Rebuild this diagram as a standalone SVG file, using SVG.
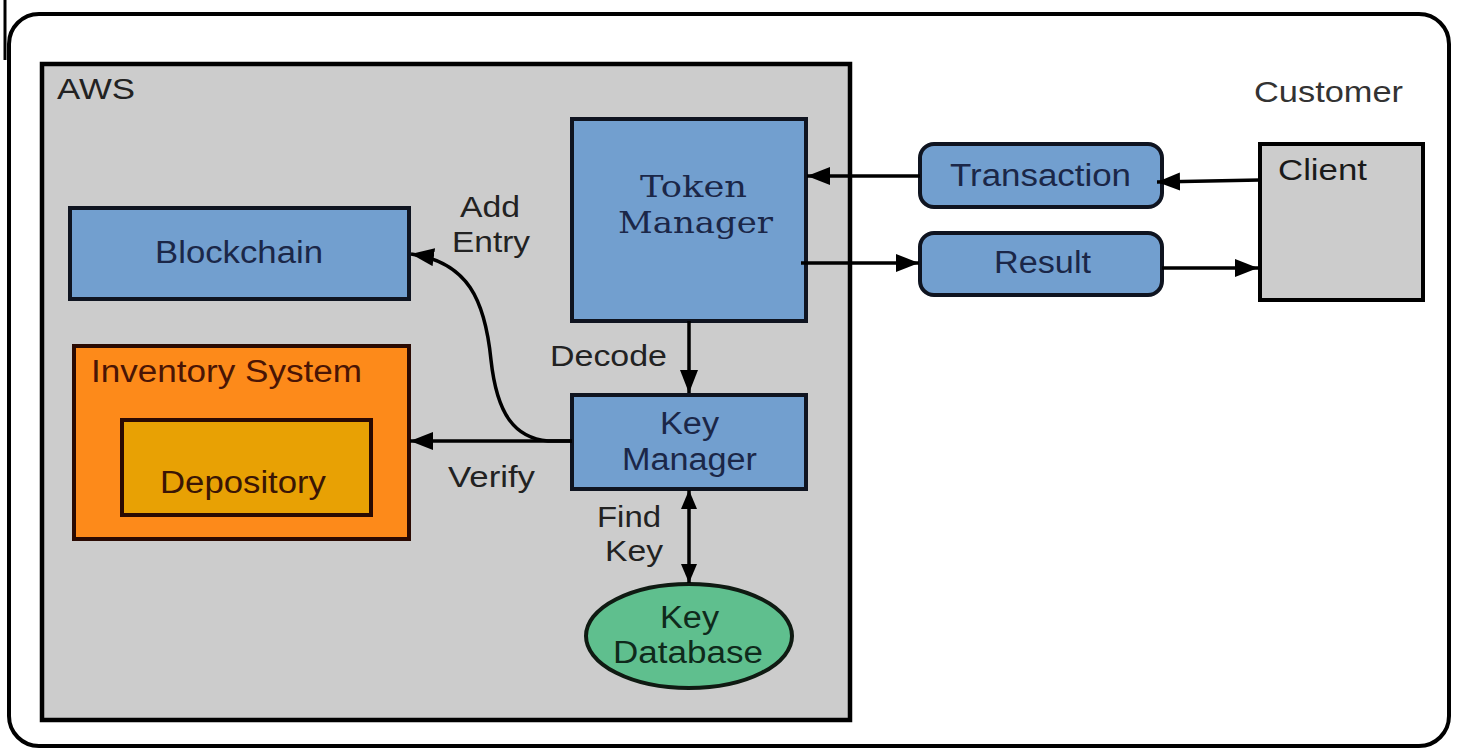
<svg xmlns="http://www.w3.org/2000/svg" width="1457" height="751" viewBox="0 0 1457 751">
<defs>
<style>
.t{font-family:"Liberation Sans",Arial,sans-serif;font-size:29px;fill:#222222}
.nt{font-family:"Liberation Sans",Arial,sans-serif;font-size:31px;fill:#1b2748}
.sr{font-family:"DejaVu Serif","Liberation Serif",serif;font-size:30px;fill:#1b2748}
.blue{fill:#729fcf;stroke:#0f1420;stroke-width:4}
.conn{fill:none;stroke:#000000;stroke-width:3.5}
</style>
<marker id="ah" markerUnits="userSpaceOnUse" markerWidth="24" markerHeight="20" refX="23" refY="9" orient="auto">
<path d="M0,0 L23,9 L0,18 z" fill="#000000"/>
</marker>
<marker id="ahs" markerUnits="userSpaceOnUse" markerWidth="20" markerHeight="18" refX="19" refY="8" orient="auto-start-reverse">
<path d="M0,0 L19,8 L0,16 z" fill="#000000"/>
</marker>
</defs>
<rect x="0" y="0" width="1457" height="751" fill="#ffffff"/>
<g id="frame">
<rect x="9" y="14" width="1440" height="732" rx="30" ry="30" fill="#ffffff" stroke="#000000" stroke-width="4"/>
<line x1="5" y1="0" x2="5" y2="60" stroke="#000000" stroke-width="3"/>
<text class="t" x="1254" y="102" textLength="149" lengthAdjust="spacingAndGlyphs" style="fill:#333333">Customer</text>
</g>
<g id="aws">
<rect x="42" y="64" width="808" height="656" fill="#cccccc" stroke="#000000" stroke-width="4.5"/>
<text class="t" x="57" y="99" textLength="78" lengthAdjust="spacingAndGlyphs">AWS</text>
</g>
<g id="token-manager">
<rect class="blue" x="572" y="119" width="234" height="202"/>
<text class="sr" x="640" y="197" textLength="107" lengthAdjust="spacingAndGlyphs" font-weight="bold" style="font-weight:normal">Token</text>
<text class="sr" x="618" y="233" textLength="155" lengthAdjust="spacingAndGlyphs">Manager</text>
</g>
<g id="blockchain">
<rect class="blue" x="70" y="208" width="339" height="91"/>
<text class="nt" x="155" y="263" textLength="168" lengthAdjust="spacingAndGlyphs">Blockchain</text>
</g>
<g id="inventory-system">
<rect x="74" y="346" width="335" height="193" fill="#fd8a1a" stroke="#2a0a02" stroke-width="4"/>
<text class="nt" x="91" y="382" textLength="271" lengthAdjust="spacingAndGlyphs" style="fill:#4a1505">Inventory System</text>
</g>
<g id="depository">
<rect x="122" y="420" width="249" height="95" fill="#e8a104" stroke="#2a0a02" stroke-width="4"/>
<text class="nt" x="160" y="493" textLength="166" lengthAdjust="spacingAndGlyphs" style="fill:#3a1505">Depository</text>
</g>
<g id="key-manager">
<rect class="blue" x="572" y="395" width="234" height="94"/>
<text class="nt" x="660" y="434" textLength="59" lengthAdjust="spacingAndGlyphs">Key</text>
<text class="nt" x="622" y="470" textLength="135" lengthAdjust="spacingAndGlyphs">Manager</text>
</g>
<g id="key-database">
<ellipse cx="689" cy="636" rx="103" ry="52" fill="#5fbf8e" stroke="#0f1a12" stroke-width="4"/>
<text class="nt" x="660" y="628" textLength="59" lengthAdjust="spacingAndGlyphs" style="fill:#0f2a1c">Key</text>
<text class="nt" x="613" y="663" textLength="150" lengthAdjust="spacingAndGlyphs" style="fill:#0f2a1c">Database</text>
</g>
<g id="transaction">
<rect class="blue" x="920" y="144" width="242" height="63" rx="14" ry="14"/>
<text class="nt" x="950" y="186" textLength="181" lengthAdjust="spacingAndGlyphs">Transaction</text>
</g>
<g id="result">
<rect class="blue" x="920" y="233" width="242" height="62" rx="14" ry="14"/>
<text class="nt" x="994" y="273" textLength="97" lengthAdjust="spacingAndGlyphs">Result</text>
</g>
<g id="client">
<rect x="1260" y="144" width="163" height="156" fill="#cccccc" stroke="#000000" stroke-width="4"/>
<text class="t" x="1278" y="180" textLength="89" lengthAdjust="spacingAndGlyphs" style="fill:#1a1a1a">Client</text>
</g>
<g id="connectors">
<path class="conn" d="M1260,180 L1157,182" marker-end="url(#ah)"/>
<path class="conn" d="M920,176 L807,176" marker-end="url(#ah)"/>
<path class="conn" d="M801,263 L919,263" marker-end="url(#ah)"/>
<path class="conn" d="M1162,268 L1258,268" marker-end="url(#ah)"/>
<path class="conn" d="M689,321 L689,393" marker-end="url(#ah)"/>
<path class="conn" d="M572,441 L410,441" marker-end="url(#ah)"/>
<path class="conn" d="M572,441 L548,441 C515,438 497,415 491,360 C485,300 468,262 411,254" marker-end="url(#ah)"/>
<path class="conn" d="M689,490 L689,583" marker-start="url(#ahs)" marker-end="url(#ahs)"/>
<text class="t" x="460" y="217" textLength="60" lengthAdjust="spacingAndGlyphs">Add</text>
<text class="t" x="452" y="252" textLength="78" lengthAdjust="spacingAndGlyphs">Entry</text>
<text class="t" x="550" y="366" textLength="117" lengthAdjust="spacingAndGlyphs">Decode</text>
<text class="t" x="448" y="487" textLength="87" lengthAdjust="spacingAndGlyphs">Verify</text>
<text class="t" x="597" y="527" textLength="64" lengthAdjust="spacingAndGlyphs">Find</text>
<text class="t" x="605" y="561" textLength="58" lengthAdjust="spacingAndGlyphs">Key</text>
</g>
</svg>
